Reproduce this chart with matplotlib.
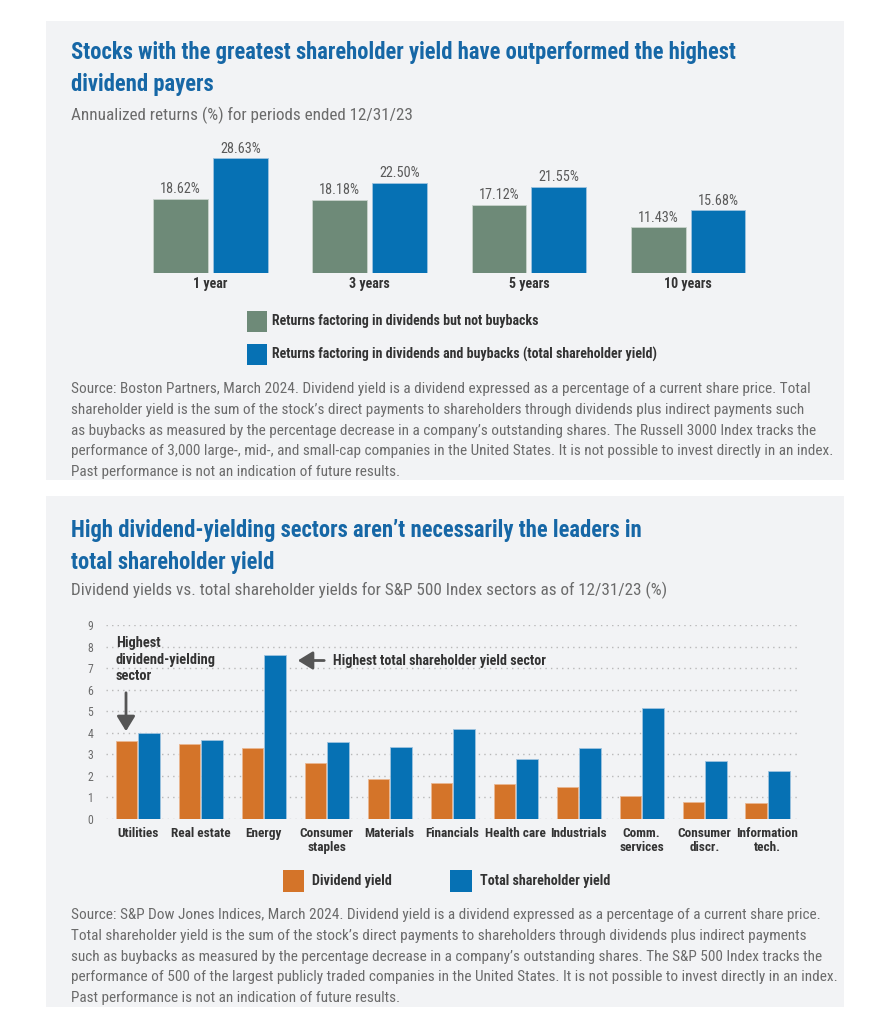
import matplotlib
matplotlib.use("Agg")
import matplotlib.pyplot as plt
from matplotlib import font_manager
from matplotlib.patches import Rectangle, FancyArrowPatch
import numpy as np

# pick a condensed face if one is around
COND = "Roboto"
for name in ["Roboto Condensed", "Liberation Sans Narrow", "Roboto"]:
    try:
        font_manager.findfont(font_manager.FontProperties(family=name), fallback_to_default=False)
        COND = name
        break
    except Exception:
        pass
NARROW = COND != "Roboto"
plt.rcParams["font.family"] = [COND, "DejaVu Sans"]

# ===== data =====
periods = ["1 year", "3 years", "5 years", "10 years"]
returns_div = [18.62, 18.18, 17.12, 11.43]
returns_tsy = [28.63, 22.50, 21.55, 15.68]

sectors = ["Utilities", "Real estate", "Energy", "Consumer\nstaples", "Materials",
           "Financials", "Health care", "Industrials", "Comm.\nservices",
           "Consumer\ndiscr.", "Information\ntech."]
div_yield = [3.62, 3.50, 3.30, 2.58, 1.84, 1.67, 1.62, 1.47, 1.07, 0.80, 0.73]
tsh_yield = [3.97, 3.66, 7.59, 3.56, 3.33, 4.16, 2.80, 3.31, 5.13, 2.71, 2.21]

GREEN = "#6e8a78"
BLUE = "#0671b4"
ORANGE = "#d47429"
TITLE = "#1667a6"
GRAY = "#6b6b6b"
DARK = "#333333"
PANEL = "#f2f3f5"

W, H = 889, 1024
fx = lambda x: x / W
fy = lambda y: 1 - y / H

fig = plt.figure(figsize=(W / 100, H / 100), dpi=100)
fig.patch.set_facecolor("white")

# scale text a bit if no condensed font
k = 1.0 if NARROW else 0.87

# panels (behind the axes)
for top, bot in [(20.7, 480), (496, 1006.5)]:
    fig.patches.append(Rectangle((fx(45.7), fy(bot)), fx(844) - fx(45.7), fy(top) - fy(bot),
                                 transform=fig.transFigure, facecolor=PANEL, edgecolor="none", zorder=-5))

# ---------- top panel ----------
fig.text(fx(71), fy(53), "Stocks with the greatest shareholder yield have outperformed the highest",
         fontsize=16.3 * k, fontweight="bold", color=TITLE, va="center")
fig.text(fx(71), fy(85), "dividend payers", fontsize=16.3 * k, fontweight="bold", color=TITLE, va="center")
fig.text(fx(71), fy(115), "Annualized returns (%) for periods ended 12/31/23",
         fontsize=12.3 * k, color=GRAY, va="center")

ax1 = fig.add_axes([fx(130.9), fy(273.3), fx(767.7) - fx(130.9), fy(132.7) - fy(273.3)])
ax1.set_facecolor("none")
x = np.arange(len(periods))
bw = 0.345
b1 = ax1.bar(x - 0.188, returns_div, bw, color=GREEN, edgecolor="#c9d3cc", linewidth=0.6)
b2 = ax1.bar(x + 0.188, returns_tsy, bw, color=BLUE, edgecolor="#9ec3df", linewidth=0.6)
for bars, vals in [(b1, returns_div), (b2, returns_tsy)]:
    for r, v in zip(bars, vals):
        ax1.annotate(f"{v:.2f}%", (r.get_x() + r.get_width() / 2, v), xytext=(0, 2),
                     textcoords="offset points", ha="center", va="bottom",
                     fontsize=10.3 * k, color="#5a5a5a")
ax1.set_xlim(-0.5, 3.5)
ax1.set_ylim(0, 35)
ax1.set_xticks(x)
ax1.set_xticklabels(periods, fontsize=10 * k, fontweight="bold", color=DARK)
ax1.tick_params(axis="x", length=0, pad=3)
ax1.set_yticks([])
for s in ax1.spines.values():
    s.set_visible(False)

# legend top
for yy, col, lab in [(321, GREEN, "Returns factoring in dividends but not buybacks"),
                     (354, BLUE, "Returns factoring in dividends and buybacks (total shareholder yield)")]:
    fig.patches.append(Rectangle((fx(246.5), fy(yy + 10.5)), fx(20.5), 21 / H,
                                 transform=fig.transFigure, facecolor=col, edgecolor="none"))
    fig.text(fx(272), fy(yy), lab, fontsize=10 * k, fontweight="bold", color=DARK, va="center")

src1 = ["Source: Boston Partners, March 2024. Dividend yield is a dividend expressed as a percentage of a current share price. Total",
        "shareholder yield is the sum of the stock\u2019s direct payments to shareholders through dividends plus indirect payments such",
        "as buybacks as measured by the percentage decrease in a company\u2019s outstanding shares. The Russell 3000 Index tracks the",
        "performance of 3,000 large-, mid-, and small-cap companies in the United States. It is not possible to invest directly in an index.",
        "Past performance is not an indication of future results."]
for i, line in enumerate(src1):
    fig.text(fx(71), fy(389 + i * 20.8), line, fontsize=11 * k, color=GRAY, va="center")

# ---------- bottom panel ----------
fig.text(fx(71), fy(530), "High dividend-yielding sectors aren\u2019t necessarily the leaders in",
         fontsize=16.3 * k, fontweight="bold", color=TITLE, va="center")
fig.text(fx(71), fy(562), "total shareholder yield", fontsize=16.3 * k, fontweight="bold", color=TITLE, va="center")
fig.text(fx(71), fy(590), "Dividend yields vs. total shareholder yields for S&P 500 Index sectors as of 12/31/23 (%)",
         fontsize=12.3 * k, color=GRAY, va="center")

ax2 = fig.add_axes([fx(105.7), fy(819), fx(799) - fx(105.7), fy(625) - fy(819)])
ax2.set_facecolor("none")
xs = np.arange(len(sectors))
bw2 = 0.34
ax2.bar(xs - 0.18, div_yield, bw2, color=ORANGE, edgecolor="#eab792", linewidth=0.6, zorder=3)
ax2.bar(xs + 0.18, tsh_yield, bw2, color=BLUE, edgecolor="#9ec3df", linewidth=0.6, zorder=3)
ax2.set_xlim(-0.51, 10.5)
ax2.set_ylim(0, 9)
ax2.set_yticks(range(10))
ax2.tick_params(axis="y", length=0, pad=9, labelsize=8.5 * k, labelcolor=GRAY)
ax2.set_xticks(xs)
ax2.set_xticklabels(sectors, fontsize=9.5 * k, fontweight="bold", color=DARK, linespacing=1.05)
ax2.tick_params(axis="x", length=0, pad=6)
ax2.grid(axis="y", color="#b8b8b8", linestyle=(0, (1, 3)), linewidth=1, zorder=0)
ax2.set_axisbelow(True)
for s in ax2.spines.values():
    s.set_visible(False)

# annotations
fig.text(fx(116), fy(636), "Highest\ndividend-yielding\nsector", fontsize=10.4 * k, fontweight="bold",
         color=DARK, va="top", ha="left", linespacing=1.25)
fig.patches.append(FancyArrowPatch((fx(126), fy(690)), (fx(126), fy(734)), transform=fig.transFigure,
                                   arrowstyle="-|>,head_length=9,head_width=5.5", color="#555555", lw=2))
fig.patches.append(FancyArrowPatch((fx(327), fy(660.5)), (fx(295), fy(660.5)), transform=fig.transFigure,
                                   arrowstyle="-|>,head_length=9,head_width=5.5", color="#555555", lw=2))
fig.text(fx(333), fy(660.5), "Highest total shareholder yield sector", fontsize=10.2 * k, fontweight="bold",
         color=DARK, va="center", ha="left")

# legend bottom
for x0, col, lab in [(282.5, ORANGE, "Dividend yield"), (450, BLUE, "Total shareholder yield")]:
    fig.patches.append(Rectangle((fx(x0), fy(891.5)), fx(21.5), 22 / H,
                                 transform=fig.transFigure, facecolor=col, edgecolor="none"))
    fig.text(fx(x0 + 30), fy(880.5), lab, fontsize=10.2 * k, fontweight="bold", color=DARK, va="center")

src2 = ["Source: S&P Dow Jones Indices, March 2024. Dividend yield is a dividend expressed as a percentage of a current share price.",
        "Total shareholder yield is the sum of the stock\u2019s direct payments to shareholders through dividends plus indirect payments",
        "such as buybacks as measured by the percentage decrease in a company\u2019s outstanding shares. The S&P 500 Index tracks the",
        "performance of 500 of the largest publicly traded companies in the United States. It is not possible to invest directly in an index.",
        "Past performance is not an indication of future results."]
for i, line in enumerate(src2):
    fig.text(fx(71), fy(915 + i * 20.8), line, fontsize=11 * k, color=GRAY, va="center")

fig.savefig("out.png", dpi=100, facecolor="white")
